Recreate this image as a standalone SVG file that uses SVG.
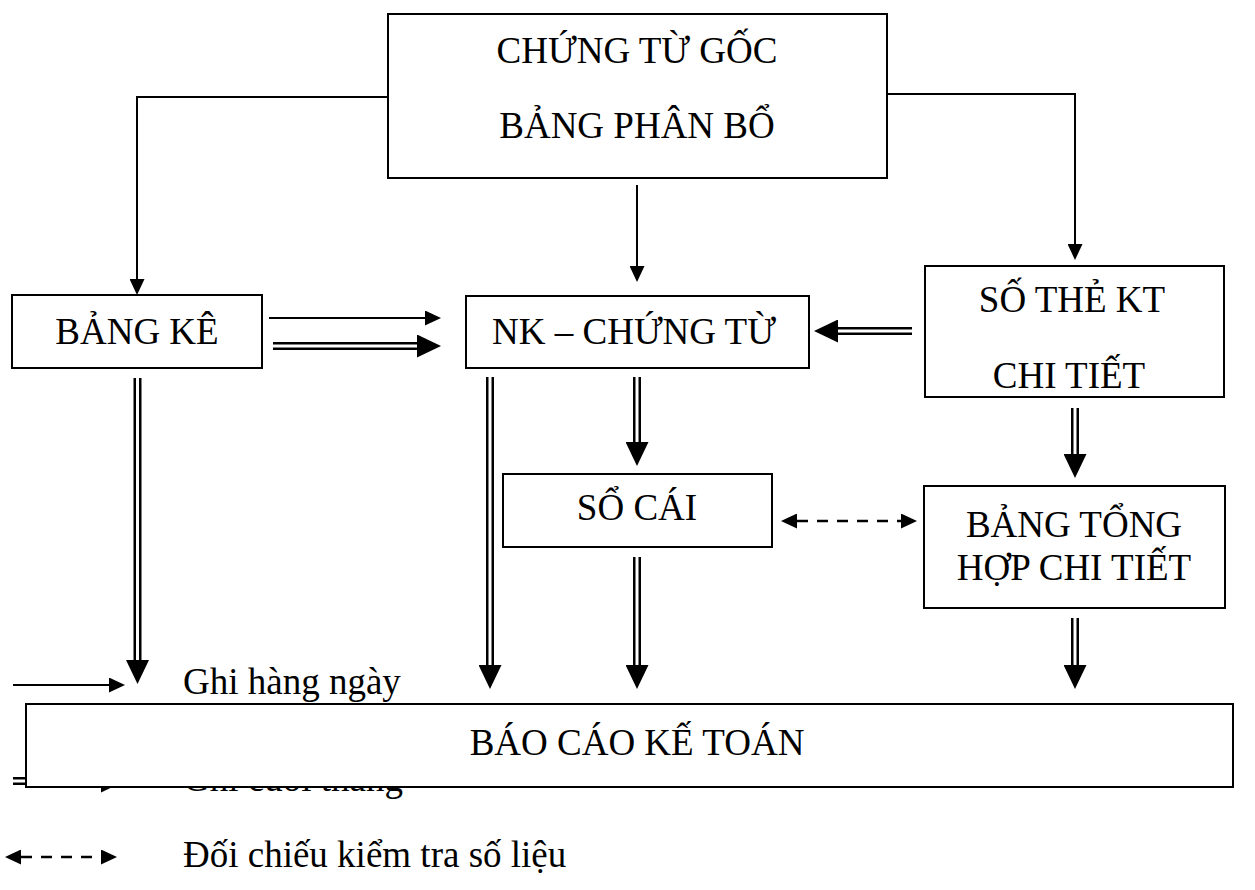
<svg xmlns="http://www.w3.org/2000/svg" width="1255" height="890" viewBox="0 0 1255 890">
<style>
.box{fill:#fff;stroke:#000;stroke-width:2}
.t{font-family:"Liberation Serif","Times New Roman",serif;font-size:37px;fill:#000}
.c{text-anchor:middle}
.s{fill:none;stroke:#000;stroke-width:2}
.d{fill:none;stroke:#000;stroke-width:8}
.dw{fill:none;stroke:#fff;stroke-width:3}
.dash{fill:none;stroke:#000;stroke-width:2.5;stroke-dasharray:11 9}
</style>
<defs>
<marker id="aS" markerUnits="userSpaceOnUse" markerWidth="16" markerHeight="15" refX="0" refY="7.5" orient="auto-start-reverse" viewBox="0 0 16 15">
<path d="M0,0 L16,7.5 L0,15 z" fill="#000"/>
</marker>
<marker id="aL" markerUnits="userSpaceOnUse" markerWidth="24" markerHeight="23" refX="0" refY="11.5" orient="auto" viewBox="0 0 24 23">
<path d="M0,0 L24,11.5 L0,23 z" fill="#000"/>
</marker>
</defs>
<rect width="1255" height="890" fill="#fff"/>

<g id="legend">
<path class="s" d="M13,685 H109" marker-end="url(#aS)"/>
<text class="t" x="183" y="694">Ghi hàng ngày</text>
<path class="d" d="M13,781 H101" marker-end="url(#aL)"/>
<path class="dw" d="M13,781 H101"/>
<text class="t" x="183" y="791">Ghi cuối tháng</text>
<path class="dash" d="M21,857 H101" marker-start="url(#aS)" marker-end="url(#aS)"/>
<text class="t" x="183" y="867">Đối chiếu kiểm tra số liệu</text>
</g>

<g id="connectors">
<path class="s" d="M388,97 H137 V279" marker-end="url(#aS)"/>
<path class="s" d="M637,185 V266" marker-end="url(#aS)"/>
<path class="s" d="M887,94 H1075 V244" marker-end="url(#aS)"/>
<path class="s" d="M269,318 H425" marker-end="url(#aS)"/>
<path class="d" d="M273,346 H417" marker-end="url(#aL)"/><path class="dw" d="M273,346 H417"/>
<path class="d" d="M912,331 H838" marker-end="url(#aL)"/><path class="dw" d="M912,331 H838"/>
<path class="d" d="M137.5,378 V660" marker-end="url(#aL)"/><path class="dw" d="M137.5,378 V660"/>
<path class="d" d="M490,377 V665" marker-end="url(#aL)"/><path class="dw" d="M490,377 V665"/>
<path class="d" d="M637,377 V442" marker-end="url(#aL)"/><path class="dw" d="M637,377 V442"/>
<path class="d" d="M637,557 V665" marker-end="url(#aL)"/><path class="dw" d="M637,557 V665"/>
<path class="d" d="M1075,408 V454" marker-end="url(#aL)"/><path class="dw" d="M1075,408 V454"/>
<path class="d" d="M1075,618 V665" marker-end="url(#aL)"/><path class="dw" d="M1075,618 V665"/>
<path class="dash" d="M797,521 H901" marker-start="url(#aS)" marker-end="url(#aS)"/>
</g>

<g id="chung-tu-goc">
<rect class="box" x="388" y="14" width="499" height="164"/>
<text class="t c" x="637" y="63">CHỨNG TỪ GỐC</text>
<text class="t c" x="637" y="138">BẢNG PHÂN BỔ</text>
</g>
<g id="bang-ke">
<rect class="box" x="12" y="295" width="250" height="73"/>
<text class="t c" x="137" y="344">BẢNG KÊ</text>
</g>
<g id="nk-chung-tu">
<rect class="box" x="466" y="296" width="343" height="72"/>
<text class="t c" x="634" y="344">NK – CHỨNG TỪ</text>
</g>
<g id="so-the-kt">
<rect class="box" x="925" y="266" width="299" height="131"/>
<text class="t c" x="1072" y="312">SỐ THẺ KT</text>
<text class="t c" x="1069" y="388">CHI TIẾT</text>
</g>
<g id="so-cai">
<rect class="box" x="503" y="474" width="269" height="73"/>
<text class="t c" x="637" y="520">SỔ CÁI</text>
</g>
<g id="bang-tong-hop">
<rect class="box" x="924" y="486" width="301" height="122"/>
<text class="t c" x="1074" y="537">BẢNG TỔNG</text>
<text class="t c" x="1074" y="580">HỢP CHI TIẾT</text>
</g>
<g id="bao-cao-ke-toan">
<rect class="box" x="26" y="704" width="1207" height="83"/>
<text class="t c" x="637" y="755">BÁO CÁO KẾ TOÁN</text>
</g>
</svg>
